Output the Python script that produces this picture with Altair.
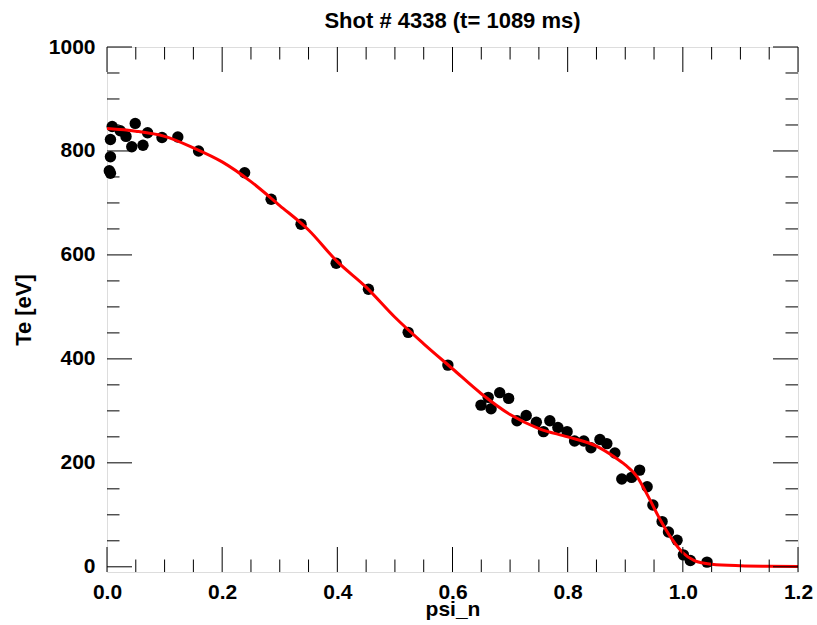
import altair as alt
import pandas as pd

# measured points
psi = [0.004, 0.006, 0.006, 0.006, 0.009, 0.023, 0.033, 0.043, 0.049, 0.0625,
       0.0705, 0.0955, 0.123, 0.159, 0.239, 0.285, 0.337, 0.398, 0.454, 0.523,
       0.592, 0.6495, 0.662, 0.667, 0.682, 0.6975, 0.712, 0.728, 0.7456, 0.758,
       0.769, 0.783, 0.799, 0.812, 0.828, 0.8405, 0.856, 0.868, 0.882, 0.894,
       0.911, 0.925, 0.938, 0.948, 0.964, 0.975, 0.99, 1.001, 1.013, 1.042]
te = [762, 757, 789, 822, 847, 839, 828, 808, 853, 811,
      835, 826, 827, 800, 758, 707, 659, 584, 534, 451,
      388, 311, 326, 304, 335, 324, 281, 291, 278, 260,
      281, 268, 260, 242, 242, 229, 245, 237, 219, 169,
      172, 186, 154, 119, 87, 67, 51, 23, 12, 9]

# fitted profile
fit_x = [0.0, 0.05, 0.1, 0.15, 0.2, 0.25, 0.3, 0.35, 0.4, 0.45, 0.5, 0.55, 0.6,
         0.65, 0.7, 0.75, 0.8, 0.85, 0.88, 0.9, 0.92, 0.94, 0.96, 0.98, 1.0,
         1.02, 1.05, 1.1, 1.15, 1.2]
fit_y = [843, 838, 828, 806, 779, 741, 695, 648, 587, 538, 480, 429, 381,
         333, 293, 266, 250, 232, 212, 196, 174, 135, 92, 55, 27,
         12, 5, 2, 1, 0.5]

x_major = [0.0, 0.2, 0.4, 0.6, 0.8, 1.0, 1.2]
x_minor = [0.05, 0.1, 0.15, 0.25, 0.3, 0.35, 0.45, 0.5, 0.55, 0.65, 0.7, 0.75,
           0.85, 0.9, 0.95, 1.05, 1.1, 1.15]
y_major = [0, 200, 400, 600, 800, 1000]
y_minor = [50, 100, 150, 250, 300, 350, 450, 500, 550, 650, 700, 750, 850, 900, 950]

title_text = ["Shot # 4338 (t= 1089 ms)"]

W, H = 691, 525
MAJ, MIN = 25, 12.5
FONT = "Liberation Sans"

pts = pd.DataFrame({"x": psi, "y": te})
fit = pd.DataFrame({"x": fit_x, "y": fit_y})

xs = alt.Scale(domain=[0, 1.2], nice=False, zero=False)
ys = alt.Scale(domain=[-10, 1000], nice=False, zero=False)

xaxis = alt.Axis(values=x_major, format=".1f", ticks=False, tickSize=0, domain=False,
                 grid=False, labelFlush=False, labelFont=FONT, labelFontSize=21,
                 labelFontWeight="bold", labelColor="black", labelPadding=9,
                 title="psi_n", titleFont=FONT, titleFontSize=21, titleFontWeight="bold",
                 titleColor="black", titleBaseline="alphabetic", titleY=43, titleX=W / 2)
yaxis = alt.Axis(values=y_major, format="d", ticks=False, tickSize=0, domain=False,
                 grid=False, labelFlush=False, labelFont=FONT, labelFontSize=21,
                 labelFontWeight="bold", labelColor="black", labelPadding=12,
                 title="Te [eV]", titleFont=FONT, titleFontSize=22, titleFontWeight="bold",
                 titleColor="black", titleBaseline="middle", titleX=-84, titleY=H / 2,
                 titleAngle=270)

points = alt.Chart(pts).mark_circle(size=130, color="black", opacity=1).encode(
    x=alt.X("x:Q", scale=xs, axis=xaxis),
    y=alt.Y("y:Q", scale=ys, axis=yaxis),
)
line = alt.Chart(fit).mark_line(color="#ff0000", strokeWidth=3, interpolate="monotone").encode(
    x=alt.X("x:Q", scale=xs, axis=xaxis),
    y=alt.Y("y:Q", scale=ys, axis=yaxis),
)

def xticks(vals, L):
    d = pd.DataFrame({"v": vals})
    b = alt.Chart(d).mark_rule(color="black", strokeWidth=1).encode(
        x=alt.X("v:Q", scale=xs, axis=xaxis), y=alt.value(H), y2=alt.value(H - L))
    t = alt.Chart(d).mark_rule(color="black", strokeWidth=1).encode(
        x=alt.X("v:Q", scale=xs, axis=xaxis), y=alt.value(0), y2=alt.value(L))
    return [b, t]

def yticks(vals, L):
    d = pd.DataFrame({"v": vals})
    l = alt.Chart(d).mark_rule(color="black", strokeWidth=1).encode(
        y=alt.Y("v:Q", scale=ys, axis=yaxis), x=alt.value(0), x2=alt.value(L))
    r = alt.Chart(d).mark_rule(color="black", strokeWidth=1).encode(
        y=alt.Y("v:Q", scale=ys, axis=yaxis), x=alt.value(W), x2=alt.value(W - L))
    return [l, r]

title = alt.Chart(pd.DataFrame({"t": title_text})).mark_text(
    font=FONT, fontSize=22, fontWeight="bold", color="black", align="center",
    baseline="alphabetic").encode(text="t:N", x=alt.value(W / 2), y=alt.value(-19.5))

layers = [points, line] + xticks(x_major, MAJ) + xticks(x_minor, MIN) + \
    yticks(y_major, MAJ) + yticks(y_minor, MIN) + [title]

chart = alt.layer(*layers).properties(
    width=W, height=H,
    padding={"left": 107, "top": 47, "right": 19, "bottom": 53},
    autosize=alt.AutoSizeParams(type="none"),
).configure_view(stroke="black", strokeWidth=1.2).configure(background="white")

chart.save("out.html", embed_options={"renderer": "svg", "actions": False})
